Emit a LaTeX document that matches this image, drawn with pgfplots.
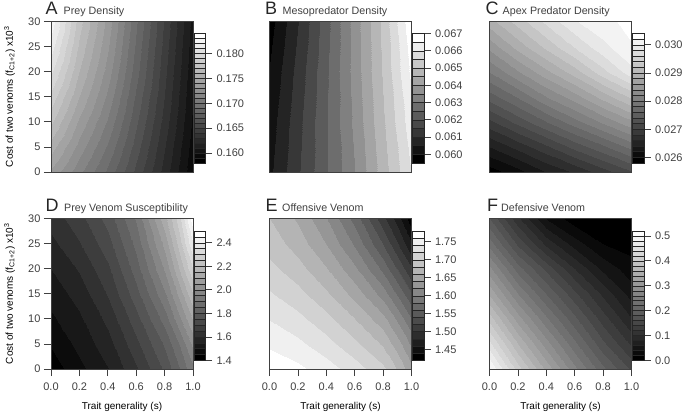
\documentclass[border=0pt]{standalone}
\usepackage{fontspec}
\setmainfont{Liberation Sans}
\usepackage{pgfplots}
\pgfplotsset{compat=1.18}
\newcommand\mkbands[2]{%
 \gdef\tmpcm{}%
 \pgfmathtruncatemacro\nlast{#2-1}%
 \foreach \i in {0,...,\nlast}{%
  \pgfmathsetmacro\g{\i/\nlast}%
  \pgfmathtruncatemacro\a{\i*100}%
  \pgfmathtruncatemacro\b{\i*100+99}%
  \xdef\tmpcm{\tmpcm gray(\a pt)=(\g) gray(\b pt)=(\g) }%
 }%
 \edef\tmpx{\noexpand\pgfplotsset{colormap={#1}{\tmpcm}}}\tmpx}
\mkbands{bandsA}{26}
\mkbands{bandsB}{15}
\mkbands{bandsC}{23}
\mkbands{bandsD}{22}
\mkbands{bandsE}{18}
\mkbands{bandsF}{26}
\definecolor{ink}{gray}{0.25}
\pgfplotsset{
 panel/.style={scale only axis,width=142pt,height=150.5pt,anchor=south west,
  xmin=0,xmax=1,ymin=0,ymax=30,axis on top,
  axis line style={ink,line width=.8pt},
  every tick/.style={ink,line width=.8pt},tick align=outside,major tick length=7pt,
  xtick=\empty,ytick=\empty,
  tick label style={font=\fontsize{11}{13}\selectfont,text=ink},
  label style={font=\fontsize{11}{13}\selectfont,text=ink}},
 xax/.style={xtick={0,0.2,0.4,0.6,0.8,1},xticklabels={0.0,0.2,0.4,0.6,0.8,1.0},xtick pos=bottom,
  xlabel={Trait generality (s)},
  xticklabel style={yshift=-3pt},
  every axis x label/.style={at={(axis description cs:0.5,-0.253)},anchor=center}},
 yax/.style={ytick={0,5,10,15,20,25,30},yticklabels={0,5,10,15,20,25,30},ytick pos=left,
  ylabel={Cost of two venoms (f\textsubscript{C1+2}) x10\textsuperscript{3}},
  every axis y label/.style={at={(axis description cs:-0.292,0.5)},rotate=90,anchor=center}},
 bar/.style={scale only axis,width=11.5pt,height=129.5pt,anchor=south west,
  xmin=0,xmax=1,xtick=\empty,axis on top,scaled y ticks=false,
  axis line style={black!85,line width=.7pt},
  every tick/.style={ink,line width=.8pt},tick align=outside,major tick length=6.5pt,
  ytick pos=right,yticklabel pos=right,
  yminorgrids,minor grid style={black!85,line width=.5pt},minor tick length=0pt,
  tick label style={font=\fontsize{11}{13}\selectfont,text=ink},yticklabel style={xshift=1pt}},
 fld/.style={surf,shader=interp,mesh/rows=#1},
 fld/.default=7
}
\newcommand\ttl[5]{% letter, x, textx, topy(baseline px), title
 \node[anchor=base west,inner sep=0pt,text=black!85,font=\fontsize{18}{20}\selectfont] at (#2pt,415pt-#4pt) {#1};
 \node[anchor=base west,inner sep=0pt,text=ink,font=\fontsize{10.7}{13}\selectfont] at (#3pt,415pt-#4pt) {#5};}
\begin{document}
\begin{tikzpicture}[x=1pt,y=1pt]
\path[use as bounding box] (0,0) rectangle (685,415);
% ---------- A
\begin{axis}[panel,yax,at={(51pt,243pt)},colormap name=bandsA,point meta min=0.158,point meta max=0.184]
\addplot[fld,point meta=\thisrow{v}] table[row sep=\\]{x y v\\
0 0 .1738\\.2 0 .1713\\.4 0 .1687\\.6 0 .1657\\.8 0 .1625\\1 0 .1592\\
0 5 .1755\\.2 5 .1726\\.4 5 .1698\\.6 5 .1665\\.8 5 .1630\\1 5 .1595\\
0 10 .1772\\.2 10 .1738\\.4 10 .1708\\.6 10 .1672\\.8 10 .1635\\1 10 .1598\\
0 15 .1787\\.2 15 .1750\\.4 15 .1717\\.6 15 .1678\\.8 15 .1639\\1 15 .1600\\
0 20 .1802\\.2 20 .1760\\.4 20 .1725\\.6 20 .1684\\.8 20 .1642\\1 20 .1602\\
0 25 .1815\\.2 25 .1768\\.4 25 .1731\\.6 25 .1688\\.8 25 .1645\\1 25 .1604\\
0 30 .1827\\.2 30 .1775\\.4 30 .1736\\.6 30 .1692\\.8 30 .1648\\1 30 .1606\\
};
\end{axis}
\begin{axis}[bar,at={(194pt,252pt)},colormap name=bandsA,point meta min=0.158,point meta max=0.184,ymin=0.158,ymax=0.184,
 ytick={0.16,0.165,0.17,0.175,0.18},yticklabels={0.160,0.165,0.170,0.175,0.180},minor ytick={0.158,0.159,...,0.184}]
\addplot[fld=2,point meta=y] coordinates {(0,0.158)(1,0.158)(0,0.184)(1,0.184)};
\end{axis}
% ---------- B
\begin{axis}[panel,at={(269.5pt,243pt)},colormap name=bandsB,point meta min=0.0595,point meta max=0.067]
\addplot[fld=4,point meta=\thisrow{v}] table[row sep=\\]{x y v\\
0 0 .0604\\.2 0 .06143\\.4 0 .06243\\.6 0 .0635\\.8 0 .06476\\1 0 .06605\\
0 10 .06025\\.2 10 .06134\\.4 10 .06245\\.6 10 .06364\\.8 10 .06493\\1 10 .06635\\
0 20 .06005\\.2 20 .06119\\.4 20 .0624\\.6 20 .06373\\.8 20 .06506\\1 20 .06665\\
0 30 .0598\\.2 30 .06098\\.4 30 .0623\\.6 30 .06375\\.8 30 .06515\\1 30 .06695\\
};
\end{axis}
\begin{axis}[bar,at={(412.5pt,252pt)},colormap name=bandsB,point meta min=0.0595,point meta max=0.067,ymin=0.0595,ymax=0.067,
 ytick={0.06,0.061,0.062,0.063,0.064,0.065,0.066,0.067},yticklabels={0.060,0.061,0.062,0.063,0.064,0.065,0.066,0.067},
 minor ytick={0.0595,0.06,...,0.067}]
\addplot[fld=2,point meta=y] coordinates {(0,0.0595)(1,0.0595)(0,0.067)(1,0.067)};
\end{axis}
% ---------- C
\begin{axis}[panel,at={(489.5pt,243pt)},colormap name=bandsC,point meta min=0.0258,point meta max=0.0304]
\addplot[fld,point meta=\thisrow{v}] table[row sep=\\]{x y v\\
0 0 .02589\\.2 0 .02612\\.4 0 .02640\\.6 0 .02663\\.8 0 .02690\\1 0 .02718\\
0 5 .02640\\.2 5 .02667\\.4 5 .02695\\.6 5 .02727\\.8 5 .02755\\1 5 .02787\\
0 10 .02695\\.2 10 .02727\\.4 10 .02759\\.6 10 .02792\\.8 10 .02824\\1 10 .02856\\
0 15 .02750\\.2 15 .02782\\.4 15 .02819\\.6 15 .02851\\.8 15 .02888\\1 15 .02925\\
0 20 .02801\\.2 20 .02838\\.4 20 .02874\\.6 20 .02911\\.8 20 .02953\\1 20 .02994\\
0 25 .02847\\.2 25 .02888\\.4 25 .02925\\.6 25 .02962\\.8 25 .02994\\1 25 .03019\\
0 30 .02893\\.2 30 .02930\\.4 30 .02966\\.6 30 .02999\\.8 30 .03015\\1 30 .03026\\
};
\end{axis}
\begin{axis}[bar,at={(632.5pt,252pt)},colormap name=bandsC,point meta min=0.0258,point meta max=0.0304,ymin=0.0258,ymax=0.0304,
 ytick={0.026,0.027,0.028,0.029,0.03},yticklabels={0.026,0.027,0.028,0.029,0.030},minor ytick={0.0258,0.026,...,0.0304}]
\addplot[fld=2,point meta=y] coordinates {(0,0.0258)(1,0.0258)(0,0.0304)(1,0.0304)};
\end{axis}
% ---------- D
\begin{axis}[panel,yax,xax,at={(51pt,46pt)},colormap name=bandsD,point meta min=1.4,point meta max=2.5]
\addplot[fld,point meta=\thisrow{v}] table[row sep=\\]{x y v\\
0 0 1.42\\.2 0 1.485\\.4 0 1.548\\.6 0 1.642\\.8 0 1.762\\.9 0 1.845\\1 0 1.94\\
0 5 1.455\\.2 5 1.515\\.4 5 1.58\\.6 5 1.685\\.8 5 1.81\\.9 5 1.90\\1 5 2.015\\
0 10 1.49\\.2 10 1.54\\.4 10 1.615\\.6 10 1.73\\.8 10 1.875\\.9 10 1.985\\1 10 2.105\\
0 15 1.52\\.2 15 1.57\\.4 15 1.655\\.6 15 1.78\\.8 15 1.945\\.9 15 2.065\\1 15 2.20\\
0 20 1.55\\.2 20 1.605\\.4 20 1.69\\.6 20 1.825\\.8 20 2.01\\.9 20 2.15\\1 20 2.30\\
0 25 1.585\\.2 25 1.645\\.4 25 1.73\\.6 25 1.865\\.8 25 2.07\\.9 25 2.22\\1 25 2.40\\
0 30 1.62\\.2 30 1.68\\.4 30 1.77\\.6 30 1.905\\.8 30 2.135\\.9 30 2.28\\1 30 2.49\\
};
\end{axis}
\begin{axis}[bar,at={(194pt,54.5pt)},colormap name=bandsD,point meta min=1.4,point meta max=2.5,ymin=1.4,ymax=2.5,
 ytick={1.4,1.6,1.8,2,2.2,2.4},yticklabels={1.4,1.6,1.8,2.0,2.2,2.4},minor ytick={1.4,1.45,...,2.5}]
\addplot[fld=2,point meta=y] coordinates {(0,1.4)(1,1.4)(0,2.5)(1,2.5)};
\end{axis}
% ---------- E
\begin{axis}[panel,xax,at={(269.5pt,46pt)},colormap name=bandsE,point meta min=1.42,point meta max=1.78]
\addplot[fld,point meta=\thisrow{v}] table[row sep=\\]{x y v\\
0 0 1.775\\.2 0 1.765\\.4 0 1.75\\.6 0 1.73\\.8 0 1.705\\.9 0 1.68\\1 0 1.645\\
0 5 1.756\\.2 5 1.745\\.4 5 1.728\\.6 5 1.705\\.8 5 1.677\\.9 5 1.65\\1 5 1.615\\
0 10 1.739\\.2 10 1.726\\.4 10 1.707\\.6 10 1.68\\.8 10 1.647\\.9 10 1.617\\1 10 1.58\\
0 15 1.722\\.2 15 1.707\\.4 15 1.684\\.6 15 1.652\\.8 15 1.611\\.9 15 1.578\\1 15 1.54\\
0 20 1.706\\.2 20 1.688\\.4 20 1.662\\.6 20 1.624\\.8 20 1.574\\.9 20 1.54\\1 20 1.50\\
0 25 1.691\\.2 25 1.671\\.4 25 1.64\\.6 25 1.596\\.8 25 1.539\\.9 25 1.503\\1 25 1.46\\
0 30 1.68\\.2 30 1.657\\.4 30 1.622\\.6 30 1.572\\.8 30 1.507\\.9 30 1.472\\1 30 1.425\\
};
\end{axis}
\begin{axis}[bar,at={(412.5pt,54.5pt)},colormap name=bandsE,point meta min=1.42,point meta max=1.78,ymin=1.42,ymax=1.78,
 ytick={1.45,1.5,1.55,1.6,1.65,1.7,1.75},yticklabels={1.45,1.50,1.55,1.60,1.65,1.70,1.75},minor ytick={1.42,1.44,...,1.78}]
\addplot[fld=2,point meta=y] coordinates {(0,1.42)(1,1.42)(0,1.78)(1,1.78)};
\end{axis}
% ---------- F
\begin{axis}[panel,xax,at={(489.5pt,46pt)},colormap name=bandsF,point meta min=0,point meta max=0.52]
\addplot[fld,point meta=\thisrow{v}] table[row sep=\\]{x y v\\
0 0 .50\\.2 0 .41\\.4 0 .335\\.6 0 .265\\.8 0 .205\\1 0 .155\\
0 5 .445\\.2 5 .36\\.4 5 .29\\.6 5 .225\\.8 5 .165\\1 5 .115\\
0 10 .39\\.2 10 .31\\.4 10 .245\\.6 10 .185\\.8 10 .13\\1 10 .08\\
0 15 .335\\.2 15 .26\\.4 15 .20\\.6 15 .145\\.8 15 .095\\1 15 .05\\
0 20 .285\\.2 20 .21\\.4 20 .155\\.6 20 .10\\.8 20 .055\\1 20 .028\\
0 25 .23\\.2 25 .155\\.4 25 .095\\.6 25 .05\\.8 25 .02\\1 25 .012\\
0 30 .18\\.2 30 .105\\.4 30 .04\\.6 30 .008\\.8 30 .006\\1 30 .005\\
};
\end{axis}
\begin{axis}[bar,at={(632.5pt,54.5pt)},colormap name=bandsF,point meta min=0,point meta max=0.52,ymin=0,ymax=0.52,
 ytick={0,0.1,0.2,0.3,0.4,0.5},yticklabels={0.0,0.1,0.2,0.3,0.4,0.5},minor ytick={0,0.02,...,0.52}]
\addplot[fld=2,point meta=y] coordinates {(0,0)(1,0)(0,0.52)(1,0.52)};
\end{axis}
\ttl{A}{45.5}{63.5}{14.3}{Prey Density}
\ttl{B}{265}{282.5}{14.3}{Mesopredator Density}
\ttl{C}{485.5}{502.5}{14.3}{Apex Predator Density}
\ttl{D}{45.5}{64}{212}{Prey Venom Susceptibility}
\ttl{E}{265.5}{282}{212}{Offensive Venom}
\ttl{F}{487}{501}{212}{Defensive Venom}
\end{tikzpicture}
\end{document}
